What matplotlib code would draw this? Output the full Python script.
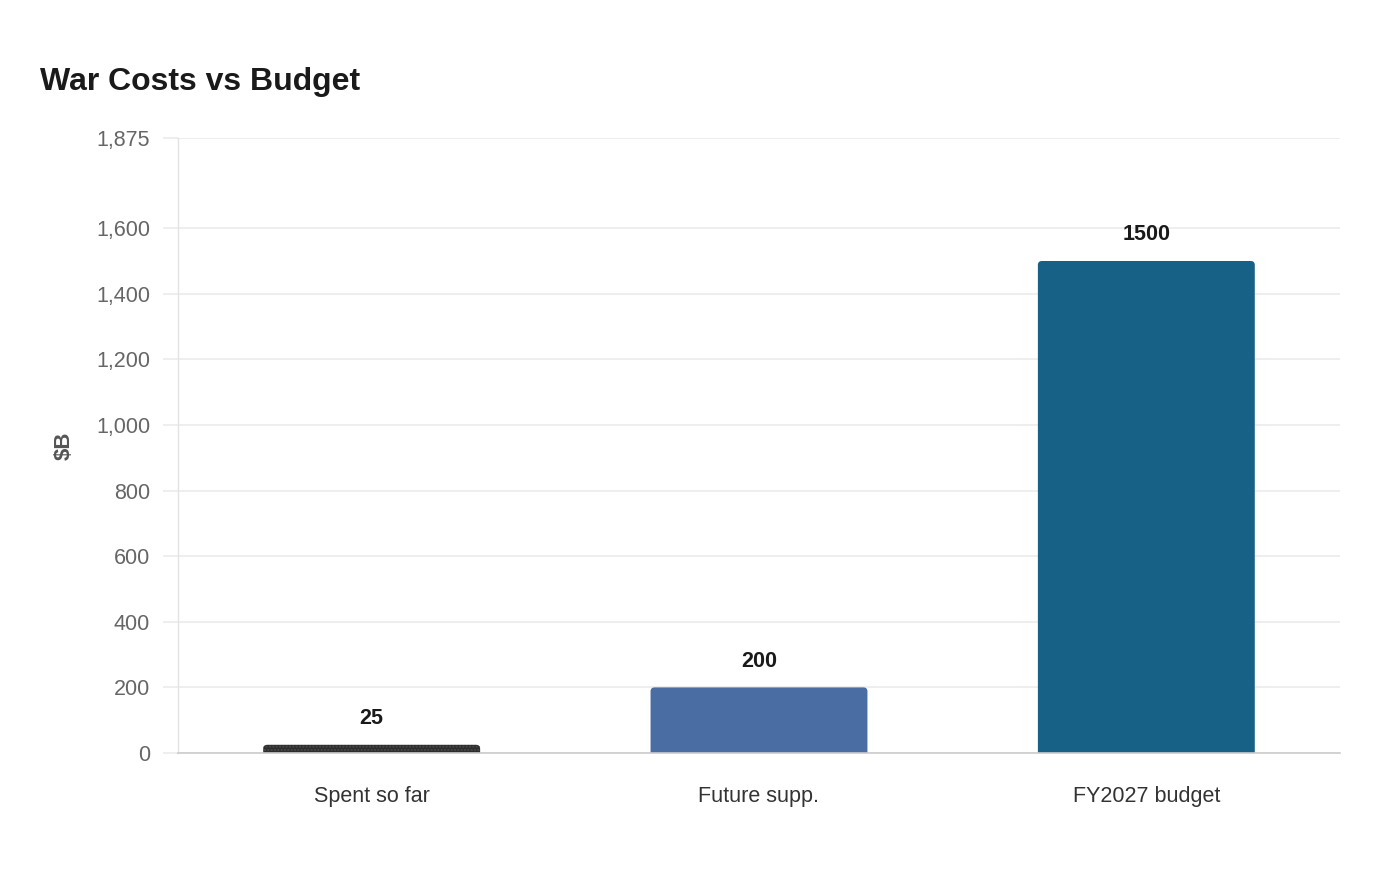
import matplotlib.pyplot as plt
from matplotlib.patches import FancyBboxPatch

plt.rcParams['font.family'] = ['Liberation Sans', 'DejaVu Sans']

categories = ['Spent so far', 'Future supp.', 'FY2027 budget']
values = [25, 200, 1500]
colors = ['#2e2e2e', '#4a6ea3', '#176186']
yticks = [0, 200, 400, 600, 800, 1000, 1200, 1400, 1600, 1875]

fig = plt.figure(figsize=(14, 8.8), dpi=100)
ax = fig.add_axes([178/1400, 1 - 753/880, (1340-178)/1400, (753-138)/880])
ax.set_xlim(-0.5, 2.5)
ax.set_ylim(0, 1875)

# rounded-top bars (bottom sits below 0 so the axes clips it square)
bar_w = 0.56
px_x = 1162 / 3.0
px_y = 615 / 1875.0
r = 4 / px_x
for i, (v, c) in enumerate(zip(values, colors)):
    p = FancyBboxPatch((i - bar_w/2, -30), bar_w, v + 30,
                       boxstyle=f'round,pad=0,rounding_size={r}',
                       mutation_aspect=px_x / px_y,
                       facecolor=c, edgecolor='none', zorder=3)
    if i == 0:
        p.set_hatch('.....')
        p.set_edgecolor('#4a4a4a')
        p.set_linewidth(0)
    ax.add_patch(p)
    ax.annotate(str(v), (i, v), xytext=(0, 19), textcoords='offset points',
                ha='center', va='center', fontsize=15.5, fontweight='bold', color='#1a1a1a')

ax.set_yticks(yticks)
ax.set_yticklabels([f'{t:,}' for t in yticks])
ax.set_xticks(range(len(categories)))
ax.set_xticklabels(categories)

ax.grid(axis='y', color='#ebebeb', linewidth=1.2, zorder=0)
ax.tick_params(axis='y', length=11, width=1.2, color='#ebebeb', labelsize=15.5,
               labelcolor='#666666', pad=9)
ax.tick_params(axis='x', length=0, labelsize=15.5, labelcolor='#333333', pad=24)

for s in ['top', 'right']:
    ax.spines[s].set_visible(False)
ax.spines['left'].set_color('#e3e3e3')
ax.spines['left'].set_linewidth(1)
ax.spines['bottom'].set_color('#cccccc')
ax.spines['bottom'].set_linewidth(1.2)
ax.spines['bottom'].set_zorder(4)

ax.set_ylabel('$B', fontsize=16, fontweight='bold', color='#555555')
ax.yaxis.set_label_coords((75 - 178) / 1162, 0.5)

fig.text(40/1400, 1 - 82/880, 'War Costs vs Budget', fontsize=23, fontweight='bold',
         color='#1a1a1a', va='center', ha='left')

fig.savefig('out.png', dpi=100, facecolor='white')
